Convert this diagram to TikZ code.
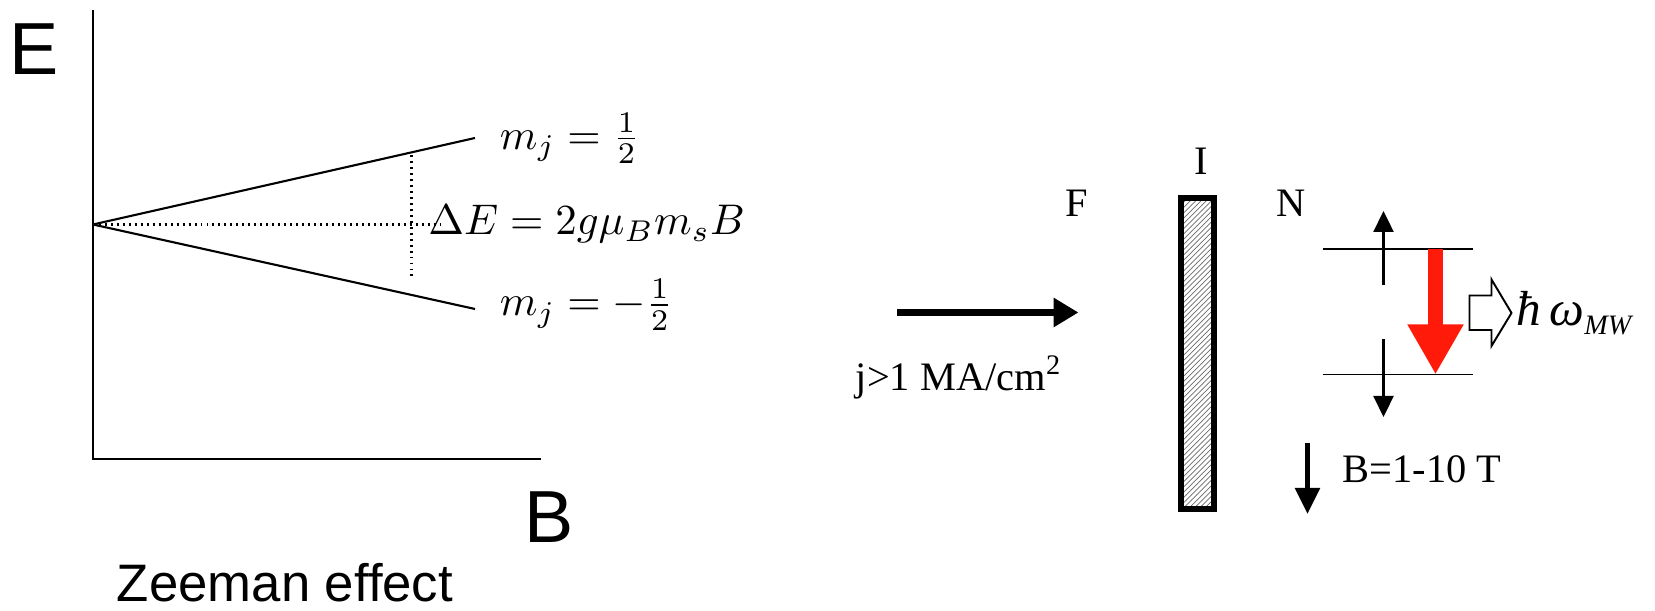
\documentclass[tikz,border=0pt]{standalone}
\usepackage{fontspec}
\usetikzlibrary{arrows.meta,patterns}
\newfontfamily\axisfont{Liberation Sans}
\newfontfamily\labelfont{Liberation Serif}
\definecolor{ZRed}{HTML}{FF1A0A}
\definecolor{ZHatch}{HTML}{6A6A6A}

\tikzset{
  axislbl/.style={inner sep=0pt,font=\axisfont\fontsize{42}{50}\selectfont},
  mathlbl/.style={inner sep=0pt,anchor=west,scale=2.44,transform shape},
  serlbl/.style={inner sep=0pt,font=\labelfont\fontsize{23}{27}\selectfont},
  level/.style={line width=1.1pt},
  spin/.style={line width=1.3pt,-{Triangle[length=0.42cm,width=0.40cm]}},
  guide/.style={line width=1.2pt,dash pattern=on 1.1pt off 2.3pt}
}

\begin{document}
\begin{tikzpicture}[x=1cm,y=1cm]
\path[use as bounding box] (0,0) rectangle (33.10,12.22);
% Zeeman plot
\coordinate (ytop) at (1.86,12.01);
\coordinate (corner) at (1.86,3.04);
\coordinate (xend) at (10.81,3.04);
\draw[line width=1pt] (ytop) -- (corner) -- (xend);
\node[axislbl] (Elab) at (0.68,11.23) {E};
\node[axislbl] (Blab) at (10.98,1.88) {B};
\node[inner sep=0pt,anchor=base,font=\axisfont\fontsize{30}{36}\selectfont] (title) at (5.70,0.18) {Zeeman effect};
\coordinate (orig) at (1.86,7.73);
\coordinate (upend) at (9.50,9.46);
\coordinate (loend) at (9.50,6.04);
\draw[line width=1.2pt] (orig) -- (upend);
\draw[line width=1.2pt] (orig) -- (loend);
\coordinate (dtop) at (8.23,9.12);
\coordinate (dbot) at (8.23,6.63);
\coordinate (dend) at (8.80,7.73);
\draw[guide] (orig) -- (dend);
\draw[guide] (dtop) -- (dbot);
\node[mathlbl] (mup) at (9.98,9.45) {$m_j = \frac{1}{2}$};
\node[mathlbl] (dE) at (8.55,7.73) {$\Delta E = 2g\mu_B m_s B$};
\node[mathlbl] (mlo) at (9.98,6.12) {$m_j = -\frac{1}{2}$};

% F-I-N junction
\coordinate (jstart) at (17.94,5.97);
\coordinate (jend) at (21.57,5.97);
\draw[line width=3.6pt,-{Triangle[length=0.50cm,width=0.56cm]}] (jstart) -- (jend);
\node[serlbl] (jlab) at (19.17,4.67) {j>1 MA/cm\textsuperscript{2}};
\node[serlbl] (F) at (21.53,8.15) {F};
\node[serlbl] (I) at (24.02,8.99) {I};
\node[serlbl] (N) at (25.82,8.15) {N};
\node[draw,line width=3.6pt,inner sep=0pt,minimum width=0.66cm,minimum height=6.22cm,
  pattern=north east lines,pattern color=ZHatch] (bar) at (23.95,5.15) {};
% spin levels
\coordinate (upL) at (26.45,7.24);
\coordinate (upR) at (29.45,7.24);
\coordinate (loL) at (26.45,4.73);
\coordinate (loR) at (29.45,4.73);
\draw[level] (upL) -- (upR);
\draw[level] (loL) -- (loR);
\coordinate (s1a) at (27.67,6.52);
\coordinate (s1b) at (27.67,8.00);
\coordinate (s2a) at (27.67,5.43);
\coordinate (s2b) at (27.67,3.88);
\draw[spin] (s1a) -- (s1b);
\draw[spin] (s2a) -- (s2b);
\coordinate (rtop) at (28.71,7.24);
\coordinate (rbot) at (28.71,4.73);
\draw[ZRed,line width=0.30cm,-{Triangle[length=1.0cm,width=1.05cm]}] (rtop) -- (rbot);
% emitted photon
\draw[line width=1.1pt,fill=white] (29.39,6.31) -- (29.83,6.31) -- (29.83,6.63) -- (30.23,5.96)
  -- (29.83,5.30) -- (29.83,5.62) -- (29.39,5.62) -- cycle;
\node[serlbl,anchor=west,font=\labelfont\itshape\fontsize{28}{32}\selectfont] (hw) at (30.33,5.96)
  {ħ\,ω\raisebox{-0.4ex}{\fontsize{16}{19}\selectfont MW}};
% field
\coordinate (ftop) at (26.15,3.36);
\coordinate (fbot) at (26.15,1.94);
\draw[line width=3pt,-{Triangle[length=0.52cm,width=0.48cm]}] (ftop) -- (fbot);
\node[serlbl,anchor=west] (Bval) at (26.85,2.83) {B=1-10 T};
\end{tikzpicture}
\end{document}
